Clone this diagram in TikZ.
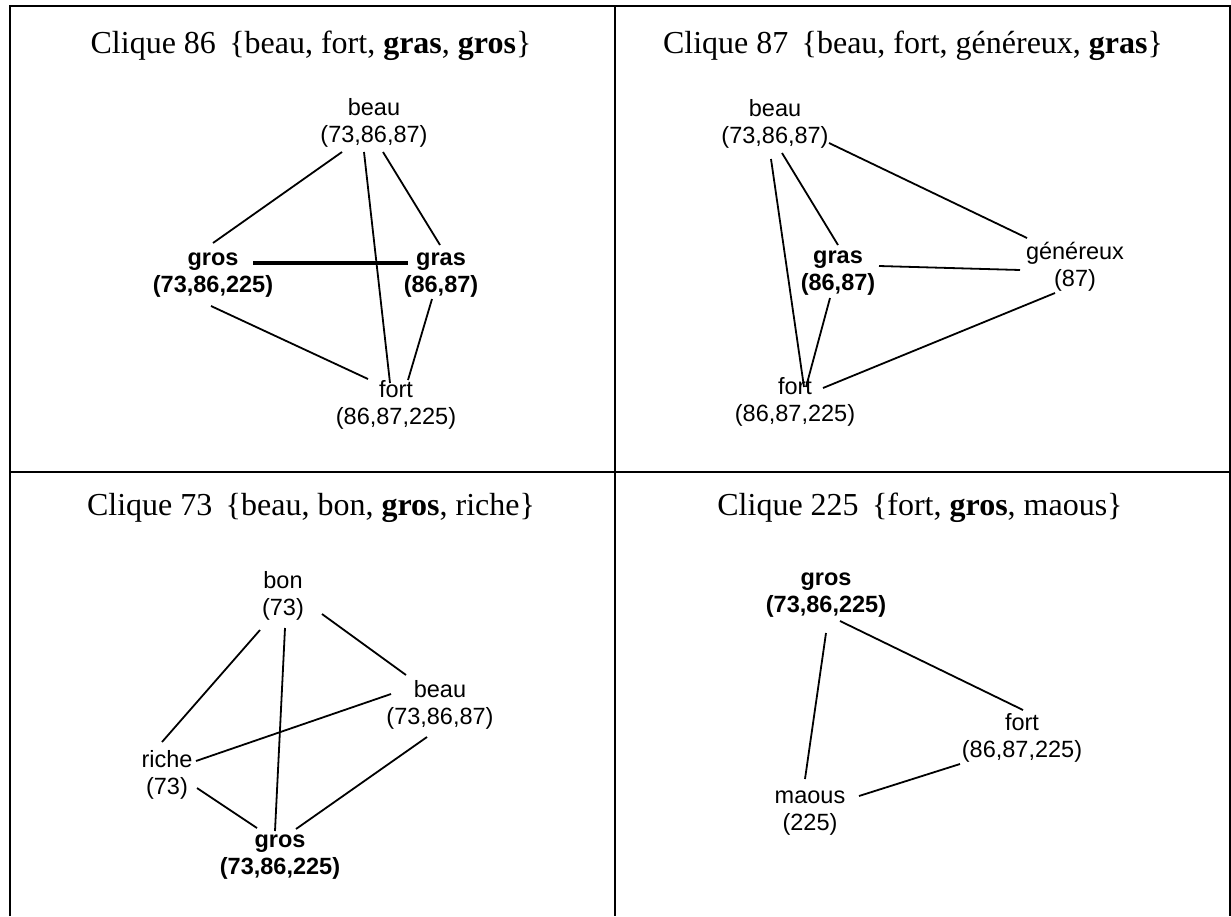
\documentclass[tikz,border=0pt]{standalone}
\usepackage{fontspec}
\setmainfont{Liberation Serif}
\newfontfamily\lblfont{Liberation Sans}
\begin{document}
\begin{tikzpicture}[x=1pt,y=-1pt,
  frame/.style={line width=2pt},
  edge/.style={line width=1.8pt},
  thickedge/.style={line width=4pt},
  ttl/.style={anchor=base,inner sep=0pt,font=\fontsize{32}{36}\selectfont},
  lbl/.style={align=center,inner sep=0pt,font=\lblfont\fontsize{23.5}{26.5}\selectfont},
  blbl/.style={lbl,font=\lblfont\bfseries\fontsize{23.5}{26.5}\selectfont}]
\useasboundingbox (0,0) rectangle (1231,916);
% table frame
\draw[frame] (10,916) -- (10,6) -- (1229.5,6) -- (1229.5,916);
\draw[frame] (614.7,6) -- (614.7,916);
\draw[frame] (10,472) -- (1229.5,472);
% titles
\node[ttl] (t1) at (311,53) {Clique 86\, \{beau, fort, \textbf{gras}, \textbf{gros}\}};
\node[ttl] (t2) at (913,53) {Clique 87\, \{beau, fort, généreux, \textbf{gras}\}};
\node[ttl] (t3) at (311,515) {Clique 73\, \{beau, bon, \textbf{gros}, riche\}};
\node[ttl] (t4) at (920,515) {Clique 225\, \{fort, \textbf{gros}, maous\}};
% ---- panel 1
\node[lbl]  (a-beau) at (374,123) {beau\\(73,86,87)};
\node[blbl] (a-gros) at (213,275) {gros\\(73,86,225)};
\node[blbl] (a-gras) at (441,275) {gras\\(86,87)};
\node[lbl]  (a-fort) at (396,405) {fort\\(86,87,225)};
\draw[edge] ([shift={(-32,29)}]a-beau.center) -- ([shift={(0,-32)}]a-gros.center);
\draw[edge] ([shift={(-10,29)}]a-beau.center) -- ([shift={(-6,-22)}]a-fort.center);
\draw[edge] ([shift={(9,29)}]a-beau.center) -- ([shift={(-1,-30)}]a-gras.center);
\draw[thickedge] ([shift={(40,-12)}]a-gros.center) -- ([shift={(-33,-12)}]a-gras.center);
\draw[edge] ([shift={(-2,31)}]a-gros.center) -- ([shift={(-28,-26)}]a-fort.center);
\draw[edge] ([shift={(-9,24)}]a-gras.center) -- ([shift={(12,-25)}]a-fort.center);
% ---- panel 2
\node[lbl]  (b-beau) at (775,124) {beau\\(73,86,87)};
\node[blbl] (b-gras) at (838,273) {gras\\(86,87)};
\node[lbl]  (b-gen)  at (1075,267) {généreux\\(87)};
\node[lbl]  (b-fort) at (795,402) {fort\\(86,87,225)};
\draw[edge] ([shift={(54,19)}]b-beau.center) -- ([shift={(-48,-29)}]b-gen.center);
\draw[edge] ([shift={(7,29)}]b-beau.center) -- ([shift={(0,-28)}]b-gras.center);
\draw[edge] ([shift={(-4,35)}]b-beau.center) -- ([shift={(9,-15)}]b-fort.center);
\draw[edge] ([shift={(41,-7)}]b-gras.center) -- ([shift={(-55,3)}]b-gen.center);
\draw[edge] ([shift={(-8,25)}]b-gras.center) -- ([shift={(11,-15)}]b-fort.center);
\draw[edge] ([shift={(28,-14)}]b-fort.center) -- ([shift={(-20,26)}]b-gen.center);
% ---- panel 3
\node[lbl]  (c-bon)   at (283,596) {bon\\(73)};
\node[lbl]  (c-beau)  at (440,705) {beau\\(73,86,87)};
\node[lbl]  (c-riche) at (167,775) {riche\\(73)};
\node[blbl] (c-gros)  at (280,857) {gros\\(73,86,225)};
\draw[edge] ([shift={(-23,34)}]c-bon.center) -- ([shift={(-5,-33)}]c-riche.center);
\draw[edge] ([shift={(2,32)}]c-bon.center) -- ([shift={(-5,-26)}]c-gros.center);
\draw[edge] ([shift={(39,18)}]c-bon.center) -- ([shift={(-34,-30)}]c-beau.center);
\draw[edge] ([shift={(-49,-11)}]c-beau.center) -- ([shift={(29,-14)}]c-riche.center);
\draw[edge] ([shift={(-13,32)}]c-beau.center) -- ([shift={(16,-28)}]c-gros.center);
\draw[edge] ([shift={(30,13)}]c-riche.center) -- ([shift={(-23,-29)}]c-gros.center);
% ---- panel 4
\node[blbl] (d-gros)  at (826,595) {gros\\(73,86,225)};
\node[lbl]  (d-fort)  at (1022,738) {fort\\(86,87,225)};
\node[lbl]  (d-maous) at (810,813) {maous\\(225)};
\draw[edge] ([shift={(14,26)}]d-gros.center) -- ([shift={(1,-28)}]d-fort.center);
\draw[edge] ([shift={(0,38)}]d-gros.center) -- ([shift={(-5,-34)}]d-maous.center);
\draw[edge] ([shift={(49,-17)}]d-maous.center) -- ([shift={(-62,26)}]d-fort.center);
\end{tikzpicture}
\end{document}
